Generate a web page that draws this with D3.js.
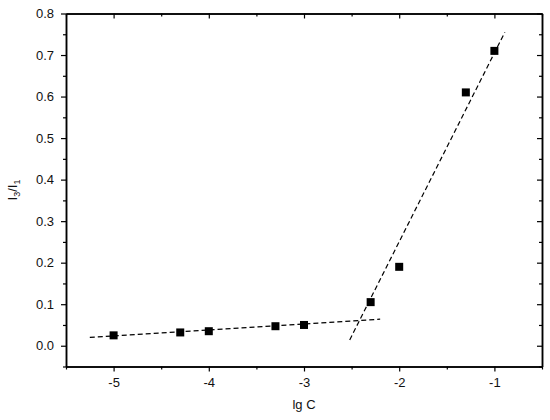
<!DOCTYPE html>
<html>
<head>
<meta charset="utf-8">
<script src="https://cdn.jsdelivr.net/npm/d3@7"></script>
<style>
  body { margin: 0; background: #fff; }
  svg { display: block; font-family: "Liberation Sans", Arial, sans-serif; }
  .axis path { stroke: #000; stroke-width: 1.5; }
  .axis line { stroke: #000; stroke-width: 1.2; }
  .axis text { font-size: 13px; fill: #111; }
</style>
</head>
<body>
<div id="chart"></div>
<script>
// measured points: lg C vs I3/I1
const lgC = [-5, -4.3, -4, -3.3, -3, -2.3, -2, -1.3, -1];
const ratio = [0.025, 0.032, 0.035, 0.047, 0.050, 0.105, 0.19, 0.61, 0.71];

// the two fitted dashed lines (endpoints)
const fitLowX = [-5.25, -2.2];
const fitLowY = [0.020, 0.064];
const fitHighX = [-2.52, -0.89];
const fitHighY = [0.014, 0.755];

const xMajor = [-5, -4, -3, -2, -1];
const xMinor = [-5.5, -4.5, -3.5, -2.5, -1.5, -0.5];
const yMajor = [0.0, 0.1, 0.2, 0.3, 0.4, 0.5, 0.6, 0.7, 0.8];
const yMinor = [-0.05, 0.05, 0.15, 0.25, 0.35, 0.45, 0.55, 0.65, 0.75];

const width = 550, height = 420;
const mLeft = 66, mRight = 542, mTop = 13.5, mBottom = 366.5;

const svg = d3.select("#chart").append("svg")
    .attr("width", width)
    .attr("height", height);

const x = d3.scaleLinear().domain([-5.5, -0.5]).range([mLeft, mRight]);
const y = d3.scaleLinear().domain([-0.05, 0.8]).range([mBottom, mTop]);

/* ---------- axes: major + minor ticks on all four sides ---------- */
const fmtY = d3.format(".1f");

const addAxis = (axis, tx, ty) => svg.append("g").attr("class", "axis")
    .attr("transform", `translate(${tx},${ty})`)
    .call(axis.tickSizeOuter(0));

addAxis(d3.axisBottom(x).tickValues(xMajor).tickSize(5).tickPadding(6).tickFormat(d => d), 0, mBottom);
addAxis(d3.axisBottom(x).tickValues(xMinor).tickSize(3).tickFormat(""), 0, mBottom);
addAxis(d3.axisTop(x).tickValues(xMajor).tickSize(-5).tickFormat(""), 0, mTop);
addAxis(d3.axisTop(x).tickValues(xMinor).tickSize(-3).tickFormat(""), 0, mTop);

addAxis(d3.axisLeft(y).tickValues(yMajor).tickSize(5).tickPadding(7).tickFormat(fmtY), mLeft, 0);
addAxis(d3.axisLeft(y).tickValues(yMinor).tickSize(3).tickFormat(""), mLeft, 0);
addAxis(d3.axisRight(y).tickValues(yMajor).tickSize(-5).tickFormat(""), mRight, 0);
addAxis(d3.axisRight(y).tickValues(yMinor).tickSize(-3).tickFormat(""), mRight, 0);

/* ---------- fitted lines ---------- */
const line = d3.line().x(d => x(d[0])).y(d => y(d[1]));
[[fitLowX, fitLowY], [fitHighX, fitHighY]].forEach(([fx, fy]) => {
    svg.append("path")
        .datum(d3.zip(fx, fy))
        .attr("d", line)
        .attr("fill", "none")
        .attr("stroke", "#000")
        .attr("stroke-width", 1.2)
        .attr("stroke-dasharray", "5,3");
});

/* ---------- points ---------- */
const sq = 8;
svg.append("g")
    .selectAll("rect")
    .data(d3.zip(lgC, ratio))
    .join("rect")
        .attr("x", d => x(d[0]) - sq / 2)
        .attr("y", d => y(d[1]) - sq / 2)
        .attr("width", sq)
        .attr("height", sq)
        .attr("fill", "#000");

/* ---------- titles ---------- */
svg.append("text")
    .attr("x", (mLeft + mRight) / 2)
    .attr("y", 409)
    .attr("text-anchor", "middle")
    .attr("font-size", 13)
    .attr("fill", "#111")
    .text("lg C");

const yt = svg.append("text")
    .attr("transform", `translate(17,${(mTop + mBottom) / 2}) rotate(-90)`)
    .attr("text-anchor", "middle")
    .attr("font-size", 13)
    .attr("fill", "#111");
yt.append("tspan").text("I");
yt.append("tspan").attr("dy", 3).attr("font-size", 9).text("3");
yt.append("tspan").attr("dy", -3).text("/I");
yt.append("tspan").attr("dy", 3).attr("font-size", 9).text("1");
</script>
</body>
</html>
